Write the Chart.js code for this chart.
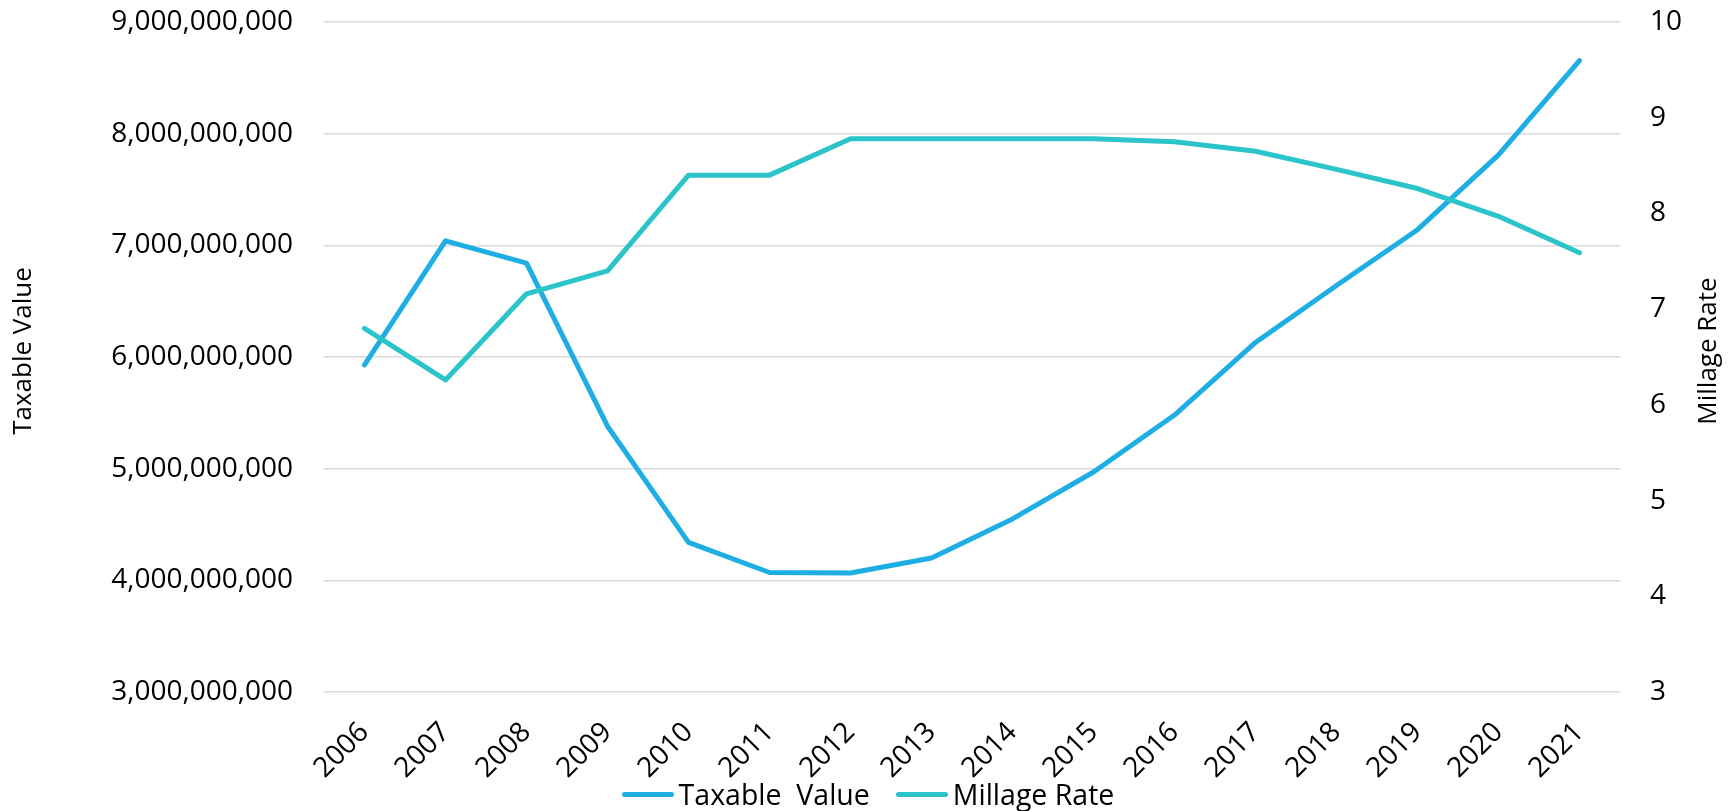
<!DOCTYPE html>
<html>
<head>
<meta charset="utf-8">
<title>Taxable Value and Millage Rate</title>
<script src="https://cdn.jsdelivr.net/npm/chart.js@4/dist/chart.umd.min.js"></script>
<style>
  html, body { margin: 0; padding: 0; background: #fff; }
  #wrap { width: 1736px; height: 811px; position: relative; }
  #legend {
    position: absolute; left: 0; right: 0; top: 776px; height: 36px;
    display: flex; justify-content: center; align-items: center;
    font-family: "Open Sans", "DejaVu Sans", sans-serif; font-size: 28.5px; color: #000;
  }
  .legend-item { display: flex; align-items: center; margin: 0 13px; white-space: pre; }
  .legend-line { width: 52px; height: 5px; border-radius: 3px; margin-right: 5px; }
</style>
</head>
<body>
<div id="wrap">
  <canvas id="chart"></canvas>
  <div id="legend"></div>
</div>
<script>
// Data
const years = ['2006', '2007', '2008', '2009', '2010', '2011', '2012', '2013',
               '2014', '2015', '2016', '2017', '2018', '2019', '2020', '2021'];
const taxableValue = [5930000000, 7040000000, 6840000000, 5380000000, 4340000000, 4070000000,
                      4065000000, 4200000000, 4550000000, 4970000000, 5480000000, 6130000000,
                      6640000000, 7140000000, 7810000000, 8655000000];
const millageRate = [6.80, 6.26, 7.16, 7.40, 8.40, 8.40, 8.78, 8.78,
                     8.78, 8.78, 8.75, 8.65, 8.46, 8.26, 7.97, 7.59];
const leftTitle = 'Taxable Value';
const rightTitle = 'Millage Rate';

const FONT = '"Open Sans", "DejaVu Sans", sans-serif';

// Excel puts the right-hand title bottom-to-top, Chart.js would put it top-to-bottom,
// so both axis titles are drawn here
const axisTitles = {
  id: 'axisTitles',
  afterDraw(chart) {
    const ctx = chart.ctx;
    const area = chart.chartArea;
    const midY = (area.top + area.bottom) / 2 - 6;
    ctx.save();
    ctx.font = '26px ' + FONT;
    ctx.fillStyle = '#000';
    ctx.textAlign = 'center';
    ctx.textBaseline = 'middle';
    [[24, leftTitle], [chart.width - 27, rightTitle]].forEach(([x, text]) => {
      ctx.save();
      ctx.translate(x, midY);
      ctx.rotate(-Math.PI / 2);
      ctx.fillText(text, 0, 0);
      ctx.restore();
    });
    ctx.restore();
  }
};

// fixed axis sizes so the plot area sits where the original one does
function fixWidth(w) {
  return (scale) => {
    scale.width = w;
    scale.paddingTop = 0;
    scale.paddingBottom = 0;
  };
}

const ctx = document.getElementById('chart').getContext('2d');
const chart = new Chart(ctx, {
  type: 'line',
  data: {
    labels: years,
    datasets: [{
      label: 'Taxable  Value',
      data: taxableValue,
      yAxisID: 'y',
      borderColor: '#1FAEE3',
      backgroundColor: '#1FAEE3',
      borderWidth: 5,
      borderCapStyle: 'round',
      borderJoinStyle: 'round',
      pointRadius: 0,
      tension: 0,
      order: 1
    }, {
      label: 'Millage Rate',
      data: millageRate,
      yAxisID: 'y1',
      borderColor: '#2BC4CA',
      backgroundColor: '#2BC4CA',
      borderWidth: 5,
      borderCapStyle: 'round',
      borderJoinStyle: 'round',
      pointRadius: 0,
      tension: 0,
      order: 0
    }]
  },
  options: {
    responsive: true,
    maintainAspectRatio: false,
    animation: false,
    layout: { padding: { top: 22, left: 0, right: 0, bottom: 0 } },
    plugins: {
      tooltip: { enabled: false },
      legend: { display: false }
    },
    scales: {
      x: {
        offset: true,
        grid: { display: false },
        border: { display: false },
        ticks: {
          autoSkip: false,
          minRotation: 45,
          maxRotation: 45,
          padding: 16,
          color: '#000',
          font: { family: FONT, size: 28 }
        },
        afterFit: (scale) => { scale.height = 119; }
      },
      y: {
        position: 'left',
        min: 3000000000,
        max: 9000000000,
        border: { display: false },
        grid: { color: '#D9D9D9', lineWidth: 1.5, drawTicks: false },
        ticks: {
          stepSize: 1000000000,
          padding: 31,
          color: '#000',
          font: { family: FONT, size: 28 },
          callback: (v) => v.toLocaleString('en-US')
        },
        afterFit: fixWidth(324)
      },
      y1: {
        position: 'right',
        min: 3,
        max: 10,
        border: { display: false },
        grid: { display: false, drawTicks: false },
        ticks: {
          stepSize: 1,
          padding: 30,
          color: '#000',
          font: { family: FONT, size: 28 }
        },
        afterFit: fixWidth(116)
      }
    }
  },
  plugins: [axisTitles]
});

// Legend below the axis, in dataset order
const legendEl = document.getElementById('legend');
chart.data.datasets.forEach((ds) => {
  const item = document.createElement('div');
  item.className = 'legend-item';
  const line = document.createElement('span');
  line.className = 'legend-line';
  line.style.background = ds.borderColor;
  const text = document.createElement('span');
  text.textContent = ds.label;
  item.appendChild(line);
  item.appendChild(text);
  legendEl.appendChild(item);
});
</script>
</body>
</html>
